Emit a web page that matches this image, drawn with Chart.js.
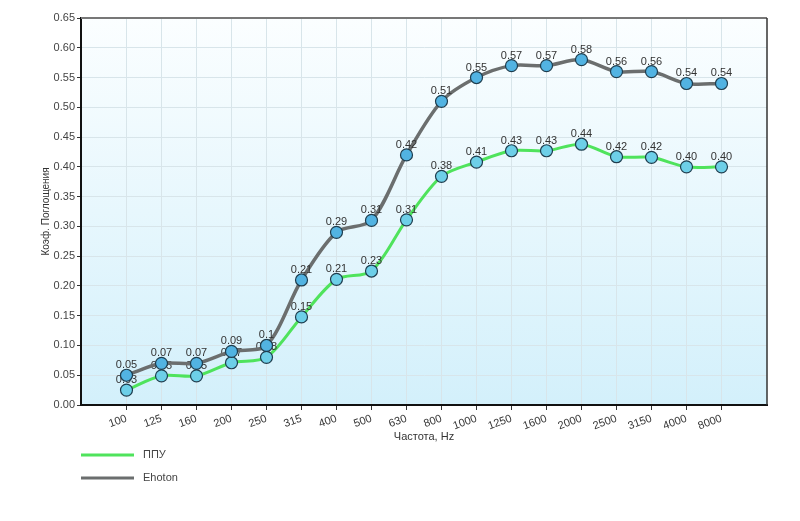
<!DOCTYPE html>
<html>
<head>
<meta charset="utf-8">
<script src="https://cdn.jsdelivr.net/npm/chart.js@4/dist/chart.umd.min.js"></script>
<style>
    html, body { margin: 0; padding: 0; background: #fff; }
    #wrap { width: 800px; height: 521px; }
</style>
</head>
<body>
<div id="wrap"><canvas id="absorbChart" width="800" height="521"></canvas></div>
<script>
// data
const frequencies = ['100', '125', '160', '200', '250', '315', '400', '500', '630', '800',
    '1000', '1250', '1600', '2000', '2500', '3150', '4000', '8000'];
const ppuValues = [0.025, 0.049, 0.049, 0.071, 0.08, 0.148, 0.211, 0.225, 0.311, 0.384,
    0.408, 0.427, 0.427, 0.438, 0.417, 0.416, 0.40, 0.40];
const ehotonValues = [0.05, 0.07, 0.07, 0.09, 0.1, 0.21, 0.29, 0.31, 0.42, 0.51,
    0.55, 0.57, 0.57, 0.58, 0.56, 0.56, 0.54, 0.54];
const yMax = 0.65;
const yStep = 0.05;

const FONT = '"Liberation Sans", Arial, sans-serif';

function toPoints(values) {
    return values.map((v, i) => ({ x: i, y: v }));
}

// light gradient behind the plot area + top/right frame
const plotBackground = {
    id: 'plotBackground',
    beforeDraw(chart) {
        const { ctx, chartArea: a } = chart;
        const g = ctx.createLinearGradient(0, a.top, 0, a.bottom);
        g.addColorStop(0, '#fbfeff');
        g.addColorStop(1, '#d3f0fb');
        ctx.save();
        ctx.fillStyle = g;
        ctx.fillRect(a.left, a.top, a.right - a.left, a.bottom - a.top);
        ctx.restore();
    },
    beforeDatasetsDraw(chart) {
        const { ctx, chartArea: a } = chart;
        ctx.save();
        ctx.lineWidth = 2;
        ctx.strokeStyle = '#777';
        ctx.beginPath();
        ctx.moveTo(a.left, a.top);
        ctx.lineTo(a.right, a.top);
        ctx.stroke();
        ctx.strokeStyle = '#333';
        ctx.lineWidth = 1.5;
        ctx.beginPath();
        ctx.moveTo(a.right, a.top);
        ctx.lineTo(a.right, a.bottom);
        ctx.stroke();
        ctx.restore();
    }
};

// value text above every point
const pointLabels = {
    id: 'pointLabels',
    afterDatasetDraw(chart, args) {
        const ctx = chart.ctx;
        const ds = chart.data.datasets[args.index];
        ctx.save();
        ctx.font = '11px ' + FONT;
        ctx.fillStyle = '#333';
        ctx.textAlign = 'center';
        ctx.textBaseline = 'alphabetic';
        args.meta.data.forEach((pt, i) => {
            ctx.fillText(ds.formatValue(ds.data[i].y), pt.x, pt.y - 7);
        });
        ctx.restore();
    }
};

// legend at the bottom left, one item per row
const bottomLegend = {
    id: 'bottomLegend',
    afterDraw(chart) {
        const ctx = chart.ctx;
        const items = chart.data.datasets.slice().sort((a, b) => a.legendRow - b.legendRow);
        ctx.save();
        ctx.font = '11px ' + FONT;
        ctx.textBaseline = 'middle';
        items.forEach((ds, i) => {
            const y = 455 + i * 23;
            ctx.strokeStyle = ds.borderColor;
            ctx.lineWidth = 3;
            ctx.beginPath();
            ctx.moveTo(81, y);
            ctx.lineTo(134, y);
            ctx.stroke();
            ctx.fillStyle = '#444';
            ctx.fillText(ds.label, 143, y);
        });
        ctx.restore();
    }
};

new Chart(document.getElementById('absorbChart'), {
    type: 'line',
    data: {
        datasets: [
            {
                label: 'ППУ',
                data: toPoints(ppuValues),
                borderColor: '#4fe35c',
                borderWidth: 3,
                tension: 0.3,
                pointRadius: 6,
                pointBackgroundColor: '#6dcfe8',
                pointBorderColor: '#1e3d4e',
                pointBorderWidth: 1.2,
                order: 1,
                legendRow: 0,
                formatValue: v => v.toFixed(2)
            },
            {
                label: 'Ehoton',
                data: toPoints(ehotonValues),
                borderColor: '#6b6e6e',
                borderWidth: 3.5,
                tension: 0.3,
                pointRadius: 6,
                pointBackgroundColor: '#52b3e2',
                pointBorderColor: '#1e3d4e',
                pointBorderWidth: 1.2,
                order: 0,
                legendRow: 1,
                formatValue: v => String(v)
            }
        ]
    },
    options: {
        responsive: false,
        animation: false,
        layout: { padding: { top: 18, right: 33, bottom: 66, left: 0 } },
        plugins: {
            legend: { display: false },
            tooltip: { enabled: false }
        },
        scales: {
            x: {
                type: 'linear',
                min: -1.3,
                max: frequencies.length - 1 + 1.3,
                afterBuildTicks: s => { s.ticks = frequencies.map((f, i) => ({ value: i })); },
                afterFit: s => { s.height = 50; },
                ticks: {
                    callback: v => frequencies[v],
                    minRotation: 20,
                    maxRotation: 20,
                    color: '#333',
                    font: { family: FONT, size: 11 },
                    padding: 2
                },
                grid: { color: '#d8e5ea', tickColor: '#333', tickLength: 5 },
                border: { color: '#111', width: 2 },
                title: {
                    display: true,
                    text: 'Частота, Hz',
                    color: '#333',
                    font: { family: FONT, size: 11 },
                    padding: { top: 0, bottom: 11 }
                }
            },
            y: {
                min: 0,
                max: yMax,
                afterFit: s => { s.width = 81; },
                ticks: {
                    stepSize: yStep,
                    callback: v => v.toFixed(2),
                    color: '#444',
                    font: { family: FONT, size: 11 },
                    padding: 2
                },
                grid: { color: '#d8e5ea', tickColor: '#333', tickLength: 4 },
                border: { color: '#111', width: 2 },
                title: {
                    display: true,
                    text: 'Коэф. Поглощения',
                    color: '#333',
                    font: { family: FONT, size: 10 },
                    padding: { top: 40, bottom: 0 }
                }
            }
        }
    },
    plugins: [plotBackground, pointLabels, bottomLegend]
});
</script>
</body>
</html>
